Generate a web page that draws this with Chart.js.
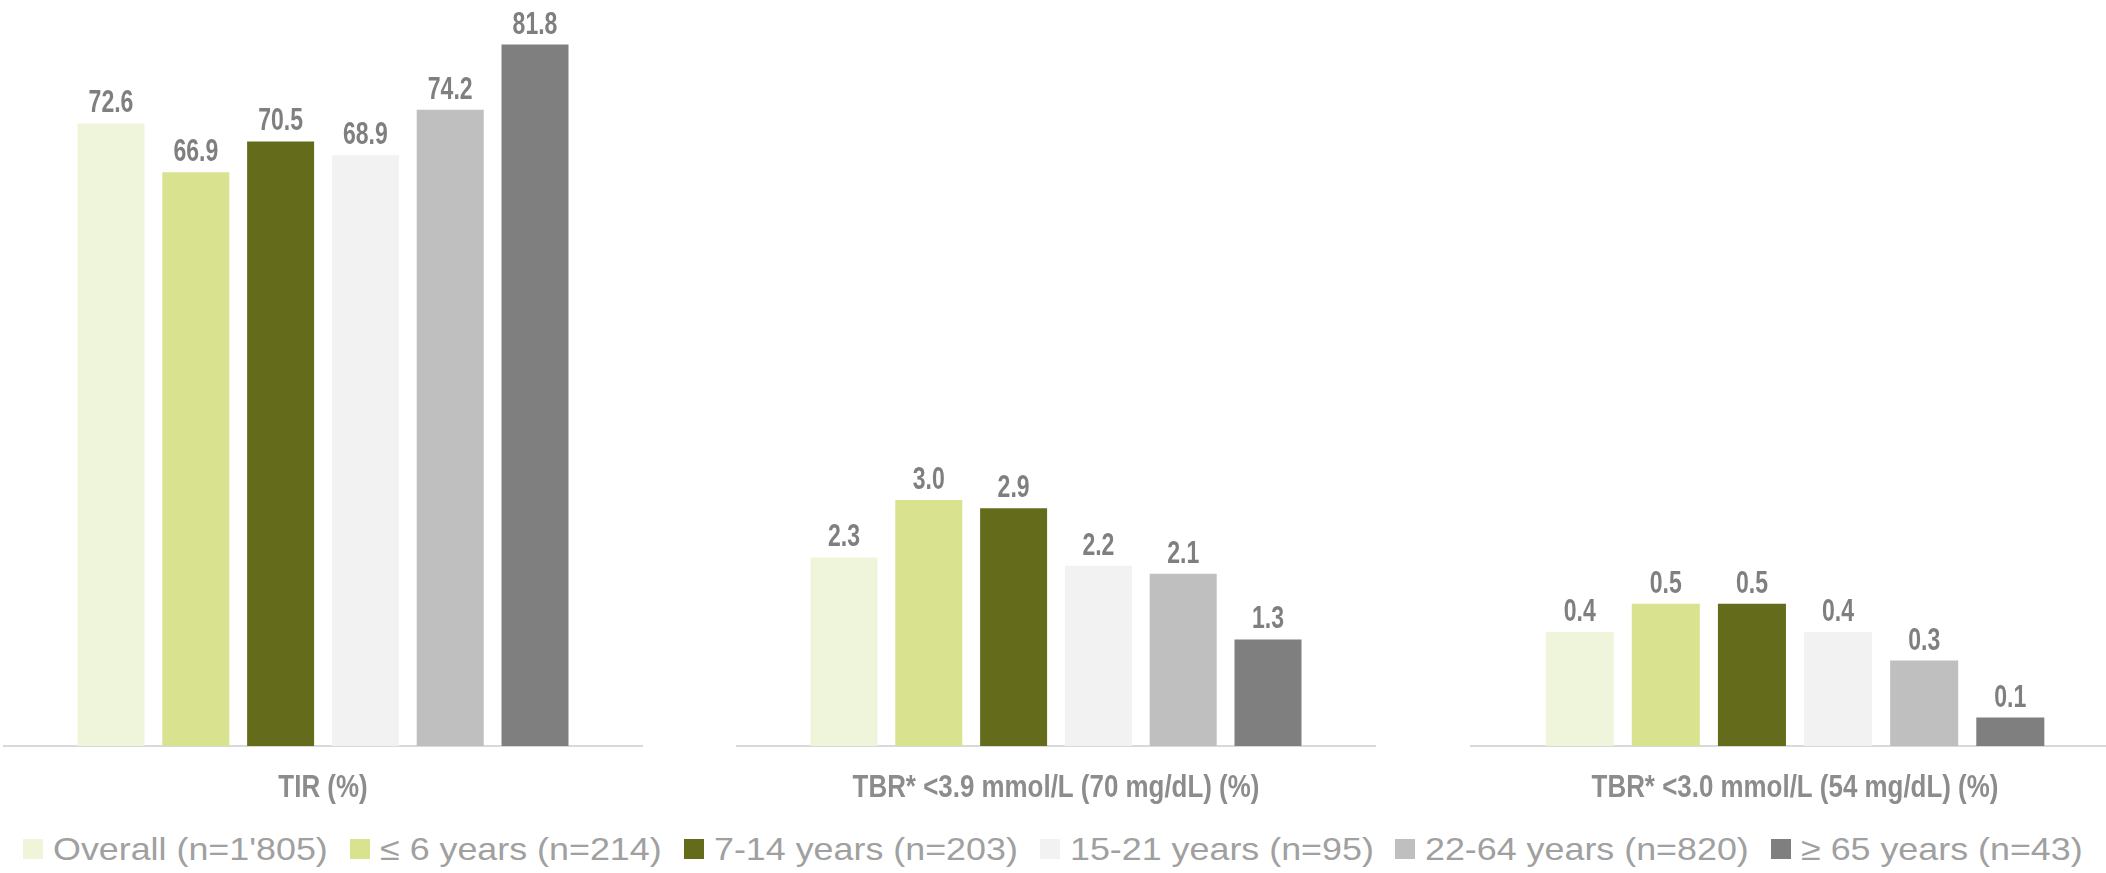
<!DOCTYPE html>
<html>
<head>
<meta charset="utf-8">
<script src="https://cdn.jsdelivr.net/npm/chart.js@4.4.1/dist/chart.umd.min.js"></script>
<style>
  html, body { margin: 0; padding: 0; background: #fff; overflow: hidden; }
  #wrap { position: relative; width: 2106px; height: 873px; overflow: hidden; }
  .panel { position: absolute; top: 0; }
  #legend {
    position: absolute; left: 0; top: 826px; width: 2106px; height: 46px;
    display: flex; justify-content: center; align-items: center; gap: 22px;
    font-family: 'Liberation Sans', Arial, sans-serif; font-size: 32px; color: #a0a0a0;
  }
  .item { display: flex; align-items: center; white-space: nowrap; }
  .swatch { width: 20px; height: 20px; margin-right: 10px; }
  .txt { display: inline-block; transform: scaleX(1.12); transform-origin: left center; }
</style>
</head>
<body>
<div id="wrap">
  <canvas id="tirChart" class="panel" width="640" height="816" style="left:3px"></canvas>
  <canvas id="tbr39Chart" class="panel" width="640" height="816" style="left:736px"></canvas>
  <canvas id="tbr30Chart" class="panel" width="650" height="816" style="left:1470px"></canvas>
  <div id="legend"></div>
</div>
<script>
// ── Data ───────────────────────────────────────────────────
const groups = ["Overall (n=1'805)", '≤ 6 years (n=214)', '7-14 years (n=203)',
                '15-21 years (n=95)', '22-64 years (n=820)', '≥ 65 years (n=43)'];
const tirValues   = [72.6, 66.9, 70.5, 68.9, 74.2, 81.8];
const tbr39Values = [2.3, 3.0, 2.9, 2.2, 2.1, 1.3];
const tbr30Values = [0.4, 0.5, 0.5, 0.4, 0.3, 0.1];
const panelLabels = ['TIR (%)', 'TBR* <3.9 mmol/L (70 mg/dL) (%)', 'TBR* <3.0 mmol/L (54 mg/dL) (%)'];

const groupColors = ['#eff5da', '#d9e28f', '#646c1c', '#f2f2f2', '#bfbfbf', '#7f7f7f'];
const FONT = "'Liberation Sans', Arial, sans-serif";

// narrow text: the source uses a condensed face, so squeeze Liberation Sans
function drawNarrow(ctx, text, x, y, font, sx, color) {
  ctx.save();
  ctx.translate(x, y);
  ctx.scale(sx, 1);
  ctx.font = font;
  ctx.fillStyle = color;
  ctx.textAlign = 'center';
  ctx.textBaseline = 'alphabetic';
  ctx.fillText(text, 0, 0);
  ctx.restore();
}

// ── Value labels + category label ──────────────────────────
const panelText = {
  id: 'panelText',
  afterDatasetsDraw(chart) {
    const ctx = chart.ctx;
    chart.data.datasets.forEach((ds, i) => {
      chart.getDatasetMeta(i).data.forEach((bar, j) => {
        drawNarrow(ctx, ds.data[j].toFixed(1), bar.x, bar.y - 11, 'bold 32px ' + FONT, 0.72, '#7f7f7f');
      });
    });
    const xs = chart.scales.x;
    drawNarrow(ctx, chart.data.labels[0], xs.getPixelForTick(0), xs.top + 51, 'bold 32px ' + FONT, 0.81, '#8c8c8c');
  }
};

// ── One panel per measure ──────────────────────────────────
function makePanel(id, label, values, yMax) {
  const ctx = document.getElementById(id).getContext('2d');
  return new Chart(ctx, {
    type: 'bar',
    data: {
      labels: [label],
      datasets: groups.map((g, i) => ({
        label: g,
        data: [values[i]],
        backgroundColor: groupColors[i],
        borderWidth: 0,
      }))
    },
    options: {
      responsive: false,
      animation: false,
      layout: { padding: 0 },
      datasets: { bar: { categoryPercentage: 0.795, barPercentage: 0.79 } },
      plugins: { legend: { display: false }, tooltip: { enabled: false } },
      scales: {
        x: {
          grid: { display: false, drawTicks: false },
          border: { display: true, color: '#d9d9d9', width: 2 },
          ticks: { display: false },
          afterFit: s => { s.height = 70; }
        },
        y: { display: false, min: 0, max: yMax }
      }
    },
    plugins: [panelText]
  });
}

makePanel('tirChart', panelLabels[0], tirValues, 87);
makePanel('tbr39Chart', panelLabels[1], tbr39Values, 9.1);
makePanel('tbr30Chart', panelLabels[2], tbr30Values, 2.62);

// ── Legend ─────────────────────────────────────────────────
const legend = document.getElementById('legend');
groups.forEach((g, i) => {
  const item = document.createElement('div');
  item.className = 'item';
  const sw = document.createElement('span');
  sw.className = 'swatch';
  sw.style.background = groupColors[i];
  const txt = document.createElement('span');
  txt.className = 'txt';
  txt.textContent = g;
  item.appendChild(sw);
  item.appendChild(txt);
  legend.appendChild(item);
  txt.style.marginRight = (txt.offsetWidth * 0.12) + 'px';
});
</script>
</body>
</html>
